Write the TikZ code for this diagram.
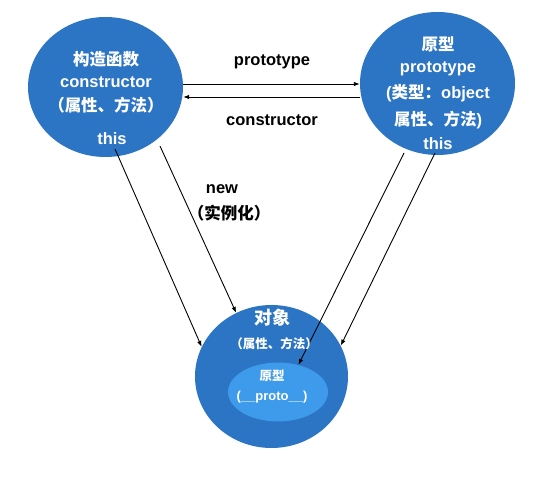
\documentclass[tikz,border=0pt]{standalone}
\usepackage{fontspec}
\setmainfont{Liberation Sans}
\newfontfamily\cjk{Noto Sans CJK SC}
\usetikzlibrary{shapes.geometric,arrows.meta}
\definecolor{outerblue}{HTML}{2C74C4}
\definecolor{innerblue}{HTML}{3E9AEA}
\begin{document}
\begin{tikzpicture}[x=1pt,y=-1pt,
 blob/.style={ellipse,fill=outerblue,draw=none,inner sep=0pt},
 txt/.style={text=white,font=\bfseries\fontsize{16.5}{18}\selectfont,inner sep=0pt},
 small/.style={text=white,font=\bfseries\fontsize{12.5}{14}\selectfont,inner sep=0pt},
 lbl/.style={text=black,font=\bfseries\fontsize{16.5}{18}\selectfont,inner sep=0pt},
 arr/.style={draw=black,line width=0.9pt,-{Latex[length=6pt,width=4.5pt]}}]
\useasboundingbox (0,0) rectangle (544,502);
\fill[white] (0,0) rectangle (544,502);
% circles
\node[blob,minimum width=155pt,minimum height=140pt] (L) at (105.5,87) {};
\node[blob,minimum width=155pt,minimum height=143pt] (R) at (437.5,83.5) {};
\node[blob,minimum width=153pt,minimum height=143pt] (B) at (271.5,376.5) {};
\node[ellipse,fill=innerblue,draw=none,inner sep=0pt,minimum width=100pt,minimum height=59pt] (I) at (278,392) {};
% helper coordinates
\coordinate (ya) at (272,84);
\coordinate (yb) at (272,97);
\coordinate (s1) at (115,149);
\coordinate (s2) at (160,146);
\coordinate (s3) at (404,153);
\coordinate (s4) at (435,153);
% connectors
\draw[arr] (L.east |- ya) -- (R.west |- ya);
\draw[arr] (R.west |- yb) -- (L.east |- yb);
\draw[arr] (s1) -- (B.157);
\draw[arr] (s2) -- (B.119);
\draw[arr] (s3) -- (I.53.5);
\draw[arr] (s4) -- (B.24);
% left circle text
\node[txt] (l1) at (106,59) {\cjk\bfseries 构造函数};
\node[txt] (l2) at (106,82) {constructor};
\node[txt] (l3) at (106,105) {\cjk\bfseries （属性、方法）};
\node[txt] (l4) at (112,139) {this};
% right circle text
\node[txt] (r1) at (438,44) {\cjk\bfseries 原型};
\node[txt] (r2) at (438,69) {prototype};
\node[txt] (r3) at (438,93) {({\cjk\bfseries 类型：}object};
\node[txt] (r4) at (438,120) {{\cjk\bfseries 属性、方法})};
\node[txt] (r5) at (438,144) {this};
% bottom circle text
\node[txt,font=\bfseries\fontsize{18}{20}\selectfont] (b1) at (272,318) {\cjk\bfseries 对象};
\node[small] (b2) at (274,344) {\cjk\bfseries （属性、方法）};
\node[small] (i1) at (272,376) {\cjk\bfseries 原型};
\node[small,font=\bfseries\fontsize{13}{14}\selectfont] (i2) at (272,397) {(\_\_proto\_\_)};
% labels
\node[lbl] (pl) at (272,62) {prototype};
\node[lbl] (cl) at (272,120) {constructor};
\node[lbl] (nl) at (222,189) {new};
\node[lbl] (il) at (229,213) {\cjk\bfseries （实例化）};
\end{tikzpicture}
\end{document}
